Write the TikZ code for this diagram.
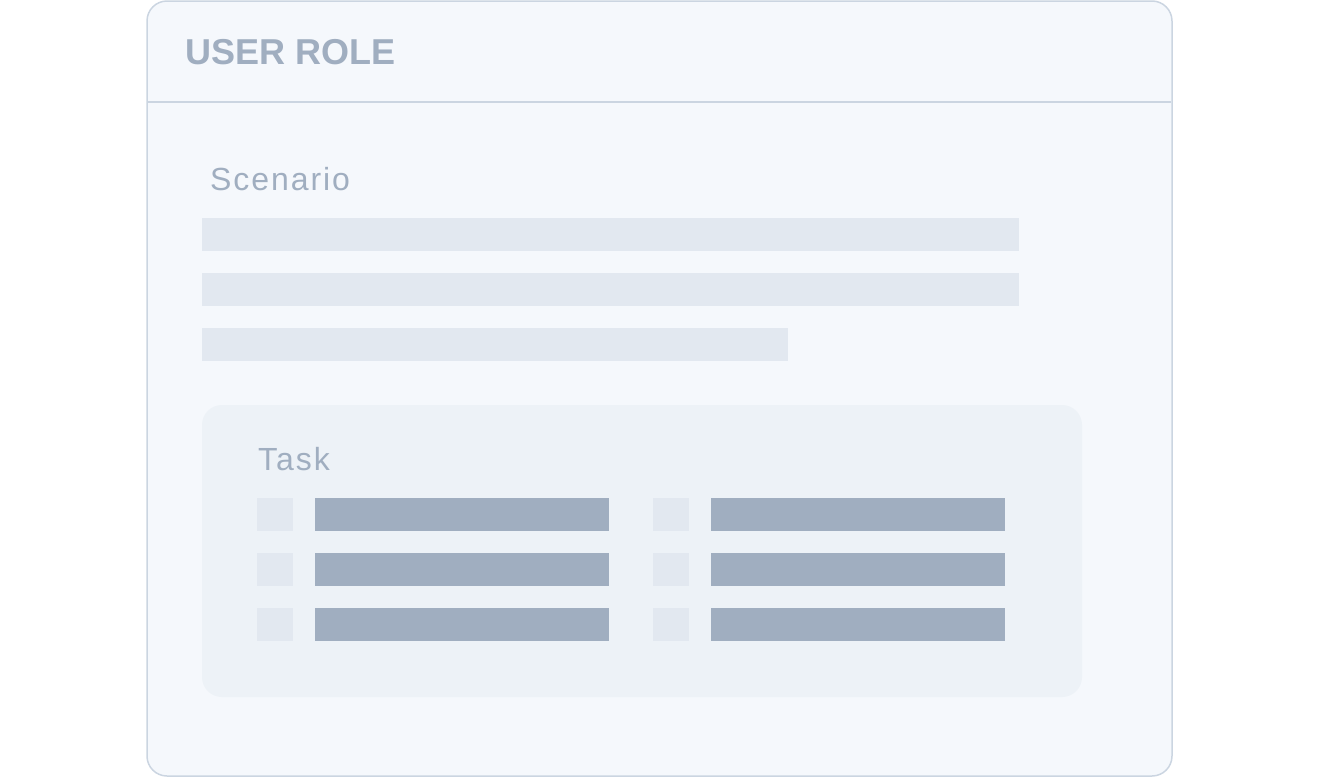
\documentclass[tikz,border=0pt]{standalone}
\usepackage{fontspec}
\setmainfont{Liberation Sans}
\newfontfamily\labelfont[LetterSpace=6]{Liberation Sans}
\definecolor{cardfill}{HTML}{F5F8FC}
\definecolor{cardline}{HTML}{CBD5E1}
\definecolor{barlight}{HTML}{E2E8F0}
\definecolor{bardark}{HTML}{A0AEC0}
\definecolor{taskfill}{HTML}{EDF2F7}
\definecolor{textcol}{HTML}{A0AEC0}
\tikzset{
  bar/.style={fill=barlight, draw=none},
  darkbar/.style={fill=bardark, draw=none},
  lbl/.style={anchor=base west, inner sep=0pt, text=textcol, font=\labelfont\fontsize{32}{36}\selectfont},
}
\begin{document}
\begin{tikzpicture}[x=1pt,y=-1pt]
\useasboundingbox (0,0) rectangle (1320,777);
% card
\draw[fill=cardfill, draw=cardline, line width=1.5pt, rounded corners=20pt] (147,1) rectangle (1172,776);
\coordinate (divL) at (147.75,102);
\coordinate (divR) at (1171.25,102);
\draw[cardline, line width=1.5pt] (divL) -- (divR);
\node[anchor=base west, inner sep=0pt, text=textcol, font=\bfseries\fontsize{36}{40}\selectfont] (title) at (185,64) {USER ROLE};
% scenario
\node[lbl] (scen) at (210,190) {Scenario};
\fill[bar] (202,218) rectangle (1019,251);
\fill[bar] (202,273) rectangle (1019,306);
\fill[bar] (202,328) rectangle (788,361);
% task box
\fill[taskfill, rounded corners=20pt] (202,405) rectangle (1082,697);
\node[lbl] (task) at (258,470) {Task};
\foreach \y in {498,553,608}{
  \fill[bar] (257,\y) rectangle (293,\y+33);
  \fill[darkbar] (315,\y) rectangle (609,\y+33);
  \fill[bar] (653,\y) rectangle (689,\y+33);
  \fill[darkbar] (711,\y) rectangle (1005,\y+33);
}
\end{tikzpicture}
\end{document}
